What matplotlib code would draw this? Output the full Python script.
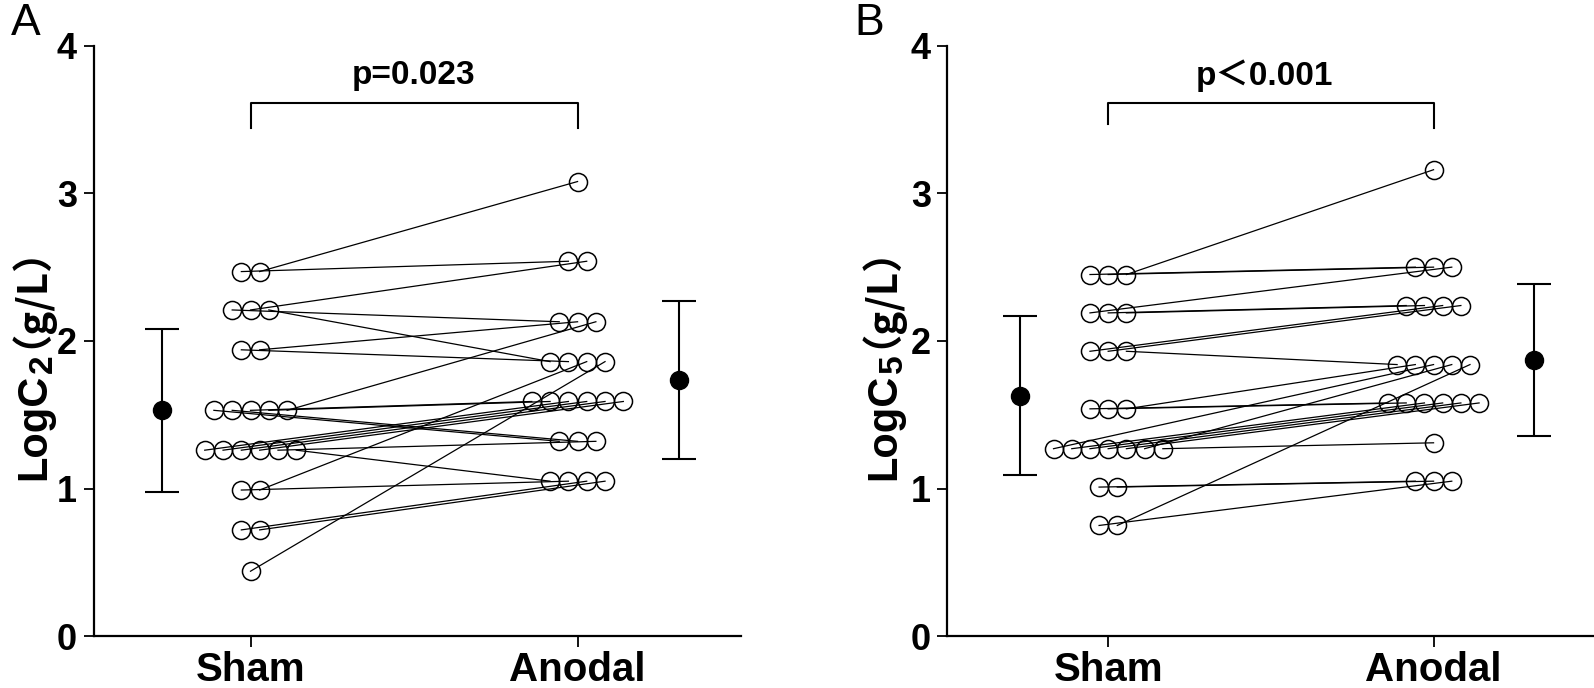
"""Paired Sham vs Anodal concentrations (two panels), GraphPad-style before/after plot."""

import numpy as np
import matplotlib
matplotlib.use("Agg")
import matplotlib.pyplot as plt

# ---- data ---------------------------------------------------------------
groups = ["Sham", "Anodal"]

# panel A, one entry per subject (sham value, anodal value)
a_sham = [2.47, 2.47, 2.21, 2.21, 2.21, 1.94, 1.94,
          1.53, 1.53, 1.53, 1.53, 1.53,
          1.26, 1.26, 1.26, 1.26, 1.26, 1.26,
          0.99, 0.99, 0.72, 0.72, 0.44]
a_anodal = [2.54, 3.08, 2.13, 2.54, 1.86, 1.86, 2.13,
            1.32, 1.32, 1.59, 1.59, 2.13,
            1.59, 1.59, 1.59, 1.59, 1.32, 1.05,
            1.05, 1.86, 1.05, 1.05, 1.86]
a_mean = [1.53, 1.735]
a_sd = [0.55, 0.535]
a_p = "p=0.023"

# panel B
b_sham = [2.45, 2.45, 2.45, 2.19, 2.19, 2.19, 1.93, 1.93, 1.93,
          1.54, 1.54, 1.54,
          1.27, 1.27, 1.27, 1.27, 1.27, 1.27, 1.27,
          1.01, 1.01, 0.75, 0.75]
b_anodal = [2.50, 2.50, 3.16, 2.50, 2.24, 2.24, 2.24, 2.24, 1.84,
            1.58, 1.58, 1.84,
            1.84, 1.58, 1.58, 1.58, 1.58, 1.84, 1.31,
            1.05, 1.05, 1.05, 1.84]
b_mean = [1.63, 1.87]
b_sd = [0.54, 0.515]
b_p = "p\uff1c0.001"

LATIN = "Liberation Sans"
CJK = "Noto Sans CJK SC"
MIXED = [LATIN, CJK]
STEP = 0.056   # horizontal spacing between tied points
W, H = 1568, 677   # layout measured on the reference in these pixel units


def spread(values, center):
    """x position for each value: ties are laid side by side around center."""
    values = np.asarray(values)
    x = np.empty(len(values))
    for v in np.unique(values):
        idx = np.flatnonzero(values == v)
        n = len(idx)
        x[idx] = center + (np.arange(n) - (n - 1) / 2) * STEP
    return x


def panel(ax, sham, anodal, mean, sd, ptext, ptext_x, xlim, brk):
    xs = spread(sham, 0)
    xa = spread(anodal, 1)
    for i in range(len(sham)):
        ax.plot([xs[i], xa[i]], [sham[i], anodal[i]], color="k", lw=0.9,
                zorder=2)
    ax.plot(xs, sham, "o", ms=13, mfc="none", mec="k", mew=1.1, zorder=3)
    ax.plot(xa, anodal, "o", ms=13, mfc="none", mec="k", mew=1.1, zorder=3)

    # mean +/- SD beside each group
    ax.errorbar([-0.27, 1.31], mean, yerr=sd, fmt="o", color="k", ms=13,
                capsize=12, elinewidth=1.5, capthick=1.5, zorder=4)

    # significance bracket
    ax.plot([0, 0, 1, 1], brk, color="k", lw=1.5, clip_on=False)
    ax.text(ptext_x, 3.8, ptext, ha="center", va="center", fontsize=24,
            fontweight="bold", family=MIXED)

    ax.set_xlim(*xlim)
    ax.set_ylim(0, 4)
    ax.set_yticks([0, 1, 2, 3, 4])
    ax.set_xticks([0, 1])
    ax.set_xticklabels(groups)
    for s in ("top", "right"):
        ax.spines[s].set_visible(False)
    for s in ("left", "bottom"):
        ax.spines[s].set_linewidth(1.6)
    ax.tick_params(axis="y", length=7, width=1.3, labelsize=26, pad=5)
    ax.tick_params(axis="x", length=8, width=1.3, labelsize=29, pad=3)
    for lab in ax.get_xticklabels() + ax.get_yticklabels():
        lab.set_fontweight("bold")
        lab.set_family(LATIN)


def ylabel(fig, x, y, sub):
    """Rotated 'LogC<sub>（g/L）', laid out piece by piece along the baseline.

    x, y: start of the baseline, in reference pixels.
    """
    r = fig.canvas.get_renderer()
    fh = fig.bbox.height
    kw = dict(rotation=90, rotation_mode="anchor", ha="left",
              fontweight="bold")
    t1 = fig.text(x / W, 1 - y / H, "LogC", fontsize=30, family=LATIN,
                  va="baseline", **kw)
    pos = t1.get_window_extent(r).y1 / fh
    # subscript: smaller and lowered (lowered = to the right once rotated)
    t2 = fig.text((x + 6) / W, pos, sub, fontsize=24, family=LATIN,
                  va="baseline", **kw)
    pos = t2.get_window_extent(r).y1 / fh
    # unit in the CJK font (full-width parens); its anchor lands ~20 px low
    fig.text((x - 36) / W, pos + 7 / H, "\uff08g/L\uff09", fontsize=29,
             family=CJK, va="center", **kw)


def main():
    fig = plt.figure(figsize=(15.94, 6.88), dpi=100)
    bottom = 1 - 626 / H
    height = (626 - 45) / H
    ax_a = fig.add_axes([92 / W, bottom, 637 / W, height])
    ax_b = fig.add_axes([932 / W, bottom, 635 / W, height])

    panel(ax_a, a_sham, a_anodal, a_mean, a_sd, a_p, 0.5, (-0.48, 1.5),
          [3.44, 3.61, 3.61, 3.44])
    panel(ax_b, b_sham, b_anodal, b_mean, b_sd, b_p, 0.48, (-0.494, 1.49),
          [3.47, 3.61, 3.61, 3.44])

    ylabel(fig, 45, 472, "2")
    ylabel(fig, 881, 472, "5")

    fig.text(25 / W, 1 - 23 / H, "A", fontsize=32, ha="center", va="center",
             family=LATIN)
    fig.text(855 / W, 1 - 23 / H, "B", fontsize=32, ha="center", va="center",
             family=LATIN)

    fig.savefig("out.png", dpi=100)


if __name__ == "__main__":
    main()
